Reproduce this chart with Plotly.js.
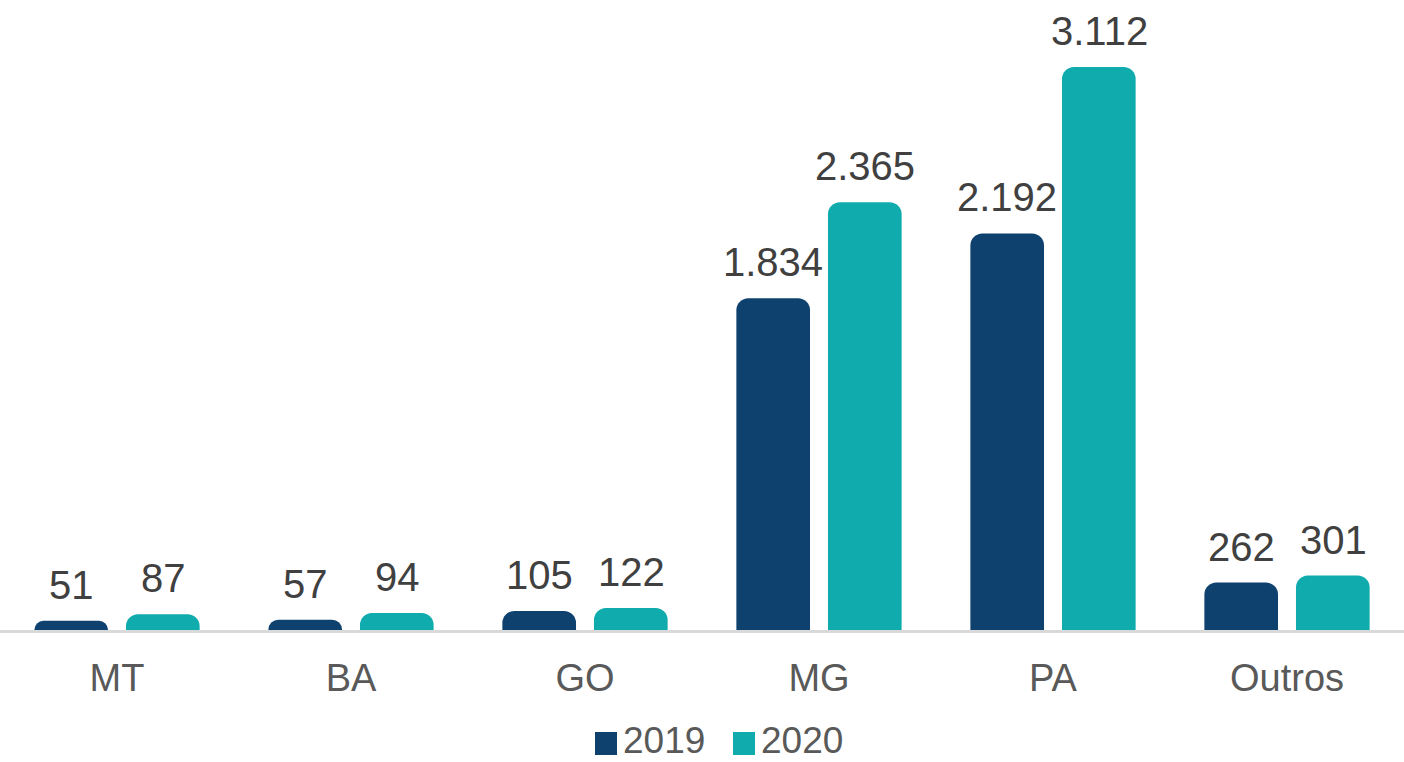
<!DOCTYPE html>
<html>
<head>
<meta charset="utf-8">
<script src="https://cdn.plot.ly/plotly-3.0.1.min.js"></script>
<style>html,body{margin:0;padding:0;background:#fff;}#chart{width:1404px;height:762px;}</style>
</head>
<body>
<div id="chart"></div>
<script>
const categories = ["MT", "BA", "GO", "MG", "PA", "Outros"];
const values2019 = [51, 57, 105, 1834, 2192, 262];
const values2020 = [87, 94, 122, 2365, 3112, 301];
const seriesNames = ["2019", "2020"];

const colors = ["#0F416F", "#0FABAD"];
const FONT = "Liberation Sans, Arial, sans-serif";

const traces = [
  {type: "bar", name: seriesNames[0], x: categories, y: values2019,
   marker: {color: colors[0], cornerradius: 12}, hoverinfo: "skip"},
  {type: "bar", name: seriesNames[1], x: categories, y: values2020,
   marker: {color: colors[1], cornerradius: 12}, hoverinfo: "skip"}
];

function fmt(v) { return v.toString().replace(/\B(?=(\d{3})+(?!\d))/g, "."); }

const annotations = [];
[values2019, values2020].forEach((vals, si) => {
  vals.forEach((v, i) => {
    annotations.push({
      x: categories[i], y: v, xref: "x", yref: "y",
      text: fmt(v), showarrow: false,
      xanchor: "center", yanchor: "bottom",
      xshift: si === 0 ? -46 : 46, yshift: 12,
      font: {family: FONT, size: 40, color: "#404040"}
    });
  });
});

// custom legend (large square swatches)
const W = 1404, H = 762, MT = 20, MB = 132;
const plotH = H - MT - MB;
const py = (pix) => (H - MB - pix) / plotH;   // pixel y -> paper y
const px = (pix) => pix / W;                  // pixel x -> paper x
const legendItems = [
  {sx0: 595, sx1: 617, tx: 622},
  {sx0: 733, sx1: 755, tx: 760}
];
const shapes = [];
legendItems.forEach((it, k) => {
  shapes.push({type: "rect", xref: "paper", yref: "paper",
    x0: px(it.sx0), x1: px(it.sx1), y0: py(755), y1: py(732),
    fillcolor: colors[k], line: {width: 0}});
  annotations.push({xref: "paper", yref: "paper", x: px(it.tx), y: py(740),
    xanchor: "left", yanchor: "middle", showarrow: false, text: seriesNames[k],
    borderpad: 0,
    font: {family: FONT, size: 37, color: "#595959"}});
});

const layout = {
  width: W, height: H,
  margin: {l: 0, r: 0, t: MT, b: MB},
  paper_bgcolor: "#ffffff", plot_bgcolor: "#ffffff",
  barmode: "group", bargap: 0.217, bargroupgap: 0.196,
  font: {family: FONT, color: "#595959"},
  xaxis: {
    showline: true, linecolor: "#d9d9d9", linewidth: 3,
    ticks: "", showgrid: false, zeroline: false, automargin: false,
    ticklabelstandoff: 12,
    tickfont: {size: 38, color: "#595959"}
  },
  yaxis: {
    range: [0, 3372], visible: false, showgrid: false, zeroline: false, automargin: false
  },
  showlegend: false,
  shapes: shapes,
  annotations: annotations
};

Plotly.newPlot("chart", traces, layout, {staticPlot: true, displayModeBar: false});
</script>
</body>
</html>
